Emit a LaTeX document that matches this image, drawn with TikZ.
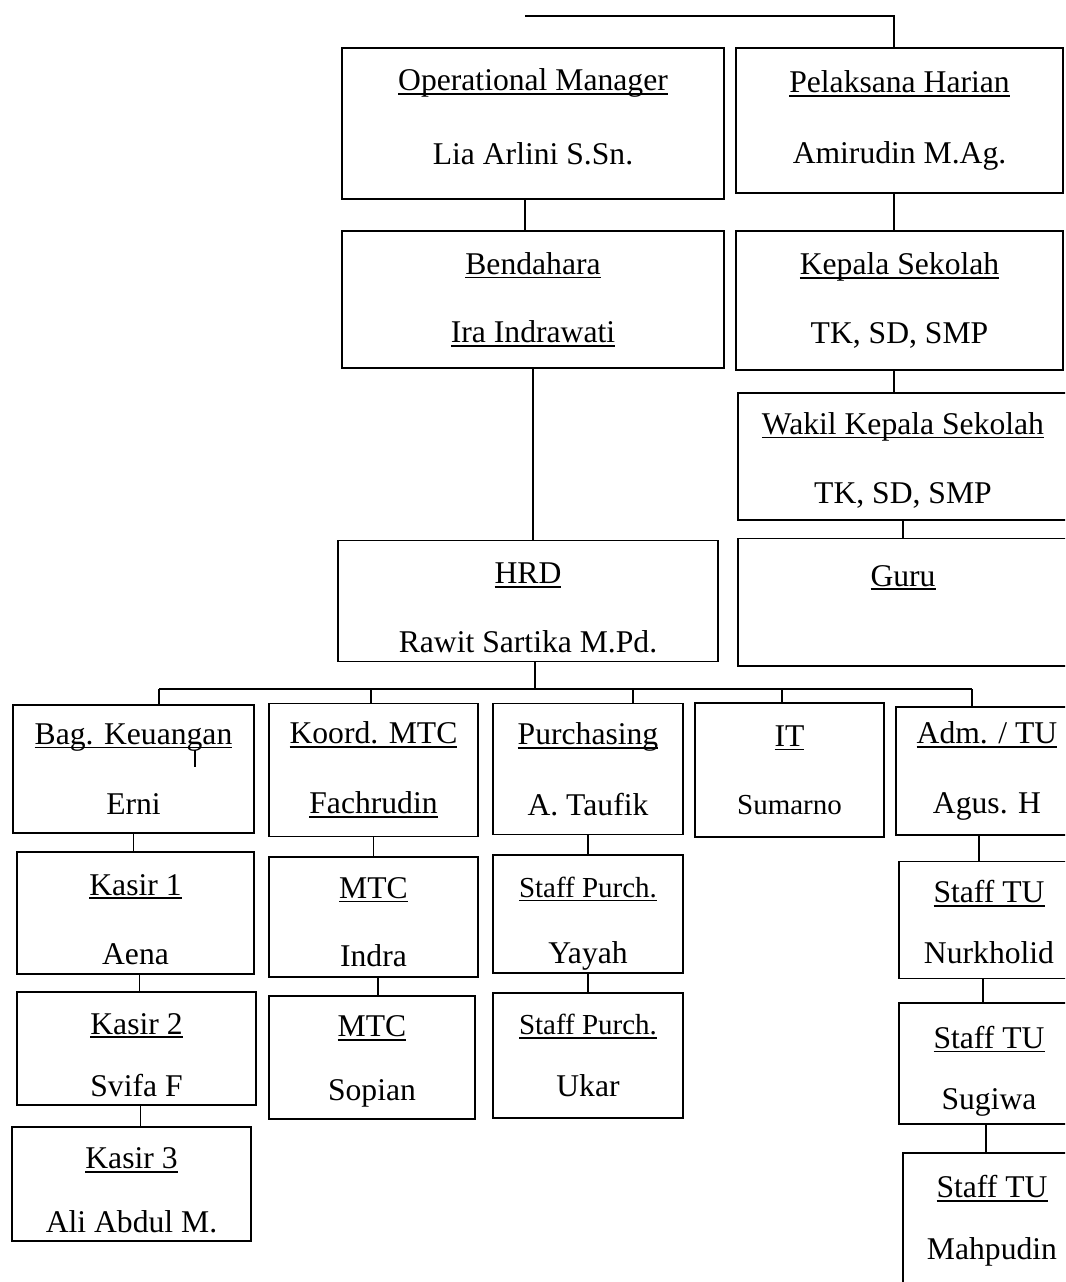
\documentclass[tikz,border=0pt]{standalone}
\usepackage{fontspec}
\setmainfont{Liberation Serif}
\usepackage{tikz}

\tikzset{
  orgbox/.style={draw, thick, rectangle, align=center, inner sep=0pt,
    font=\fontsize{18}{22}\selectfont},
  link/.style={thick}
}
\newsavebox{\ulnbox}
\newcommand{\uln}[1]{\sbox{\ulnbox}{#1}\rlap{\rule[-0.13em]{\wd\ulnbox}{0.055em}}\usebox{\ulnbox}}
\newcommand{\smallrole}{\fontsize{16.5}{20}\selectfont}
\newcommand{\padtop}[1]{\rule{0pt}{#1}}
\newcommand{\padbot}[1]{\rule[-#1]{0pt}{#1}}

\begin{document}
\begin{tikzpicture}[scale=1]
\useasboundingbox (0,0) rectangle (21.3,-25.64);
\clip (0,0) rectangle (21.3,-25.64);

% top level
\node[orgbox, minimum width=7.64cm, minimum height=3.02cm] (om) at (10.66,-2.47) {\uln{Operational Manager}\\[0.69cm]Lia Arlini S.Sn.\padbot{0.28cm}};
\node[orgbox, minimum width=6.54cm, minimum height=2.90cm] (ph) at (17.99,-2.41) {\uln{Pelaksana Harian}\\[0.63cm]Amirudin M.Ag.};

\node[orgbox, minimum width=7.64cm, minimum height=2.74cm] (bend) at (10.66,-5.99) {\uln{Bendahara}\\[0.59cm]\uln{Ira Indrawati}};
\node[orgbox, minimum width=6.54cm, minimum height=2.78cm] (kep) at (17.99,-6.01) {\uln{Kepala Sekolah}\\[0.59cm]TK, SD, SMP};
\node[orgbox, minimum width=6.60cm, minimum height=2.54cm] (wakil) at (18.06,-9.13) {\padtop{0.59cm}\uln{Wakil Kepala Sekolah}\\[0.61cm]TK, SD, SMP};
\node[orgbox, minimum width=6.60cm, minimum height=2.46cm] (guru) at (18.06,-12.045) {\padtop{0.95cm}\uln{Guru}\\[0.59cm]\strut};
\node[orgbox, minimum width=7.60cm, minimum height=2.42cm] (hrd) at (10.56,-12.015) {\padtop{0.70cm}\uln{HRD}\\[0.59cm]Rawit Sartika M.Pd.};

% departments
\node[orgbox, minimum width=4.82cm, minimum height=2.56cm] (keu) at (2.67,-15.38) {\uln{Bag. Keuangan}\\[0.63cm]Erni};
\node[orgbox, minimum width=4.18cm, minimum height=2.66cm] (koord) at (7.47,-15.395) {\uln{Koord. MTC}\\[0.63cm]\uln{Fachrudin}};
\node[orgbox, minimum width=3.80cm, minimum height=2.62cm] (purch) at (11.76,-15.385) {\uln{Purchasing}\\[0.63cm]A. Taufik};
\node[orgbox, minimum width=3.78cm, minimum height=2.68cm] (it) at (15.79,-15.40) {\uln{IT}\\[0.59cm]{\smallrole Sumarno}};
\node[orgbox, minimum width=3.64cm, minimum height=2.56cm] (adm) at (19.74,-15.42) {\uln{Adm. / TU}\\[0.63cm]Agus. H};

% staff
\node[orgbox, minimum width=4.74cm, minimum height=2.44cm] (kas1) at (2.71,-18.26) {\padtop{0.67cm}\uln{Kasir 1}\\[0.61cm]Aena};
\node[orgbox, minimum width=4.78cm, minimum height=2.26cm] (kas2) at (2.73,-20.97) {\padtop{0.67cm}\uln{Kasir 2}\\[0.47cm]Svifa F};
\node[orgbox, minimum width=4.78cm, minimum height=2.28cm] (kas3) at (2.63,-23.68) {\padtop{0.67cm}\uln{Kasir 3}\\[0.49cm]Ali Abdul M.};

\node[orgbox, minimum width=4.18cm, minimum height=2.40cm] (mtc1) at (7.47,-18.34) {\padtop{0.62cm}\uln{MTC}\\[0.59cm]Indra};
\node[orgbox, minimum width=4.12cm, minimum height=2.46cm] (mtc2) at (7.44,-21.15) {\padtop{0.58cm}\uln{MTC}\\[0.51cm]Sopian};

\node[orgbox, minimum width=3.80cm, minimum height=2.36cm] (sp1) at (11.76,-18.28) {{\smallrole\padtop{0.80cm}\uln{Staff Purch.}}\\[0.55cm]Yayah};
\node[orgbox, minimum width=3.80cm, minimum height=2.50cm] (sp2) at (11.76,-21.11) {{\smallrole\uln{Staff Purch.}}\\[0.45cm]Ukar};

\node[orgbox, minimum width=3.60cm, minimum height=2.34cm] (tu1) at (19.78,-18.395) {\padtop{0.55cm}\uln{Staff TU}\\[0.45cm]Nurkholid};
\node[orgbox, minimum width=3.60cm, minimum height=2.42cm] (tu2) at (19.78,-21.27) {\padtop{0.75cm}\uln{Staff TU}\\[0.45cm]Sugiwa};
\node[orgbox, minimum width=3.56cm, minimum height=2.74cm] (tu3) at (19.84,-24.43) {\uln{Staff TU}\\[0.47cm]Mahpudin\padbot{0.16cm}};

% lines
\coordinate (top) at (10.5,-0.32);
\draw[link] (top) -| ([xshift=-0.11cm]ph.north);
\draw[link] ([xshift=-0.16cm]om.south) -- ([xshift=-0.16cm]bend.north);
\draw[link] ([xshift=-0.11cm]ph.south) -- ([xshift=-0.11cm]kep.north);
\draw[link] ([xshift=-0.11cm]kep.south) -- ([xshift=-0.11cm]kep.south |- wakil.north);
\draw[link] (wakil.south) -- (wakil.south |- guru.north);
\draw[link] (bend.south) -- (bend.south |- hrd.north);

\coordinate (busL) at (3.18,-13.78);
\coordinate (busR) at (19.44,-13.78);
\coordinate (d2) at (7.42,-13.78);
\coordinate (d3) at (12.66,-13.78);
\coordinate (d4) at (15.64,-13.78);
\draw[link] (busL) -- (busR);
\draw[link] ([xshift=0.14cm]hrd.south) -- ([xshift=0.14cm]hrd.south |- busL);
\draw[link] (busL) -- (busL |- keu.north);
\draw[link] (d2) -- (d2 |- koord.north);
\draw[link] (d3) -- (d3 |- purch.north);
\draw[link] (d4) -- (d4 |- it.north);
\draw[link] (busR) -- (busR |- adm.north);
\draw[link] (3.9,-15.0) -- (3.9,-15.34);

\draw[link] (keu.south) -- (keu.south |- kas1.north);
\draw[link] ([xshift=0.08cm]kas1.south) -- ([xshift=0.08cm]kas1.south |- kas2.north);
\draw[link] ([xshift=0.08cm]kas2.south) -- ([xshift=0.08cm]kas2.south |- kas3.north);
\draw[link] (koord.south) -- (koord.south |- mtc1.north);
\draw[link] ([xshift=0.09cm]mtc1.south) -- ([xshift=0.09cm]mtc1.south |- mtc2.north);
\draw[link] (purch.south) -- (purch.south |- sp1.north);
\draw[link] (sp1.south) -- (sp1.south |- sp2.north);
\draw[link] ([xshift=-0.16cm]adm.south) -- ([xshift=-0.16cm]adm.south |- tu1.north);
\draw[link] ([xshift=-0.12cm]tu1.south) -- ([xshift=-0.12cm]tu1.south |- tu2.north);
\draw[link] ([xshift=-0.06cm]tu2.south) -- ([xshift=-0.06cm]tu2.south |- tu3.north);
\end{tikzpicture}
\end{document}
